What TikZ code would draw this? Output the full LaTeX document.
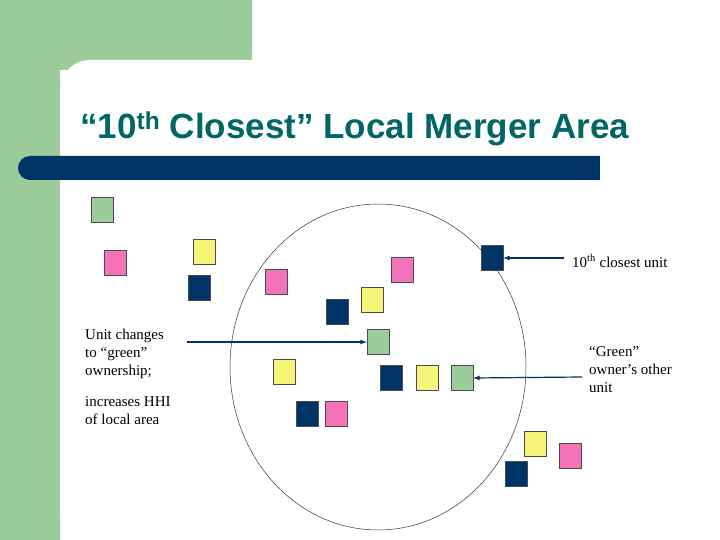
\documentclass[tikz,border=0pt]{standalone}
\usepackage{fontspec}
\setmainfont{Liberation Serif}
\newfontfamily\titlefont{Liberation Sans}
\definecolor{gr}{HTML}{9DCC9B}
\definecolor{nv}{HTML}{003366}
\definecolor{pk}{HTML}{F473B8}
\definecolor{yl}{HTML}{F5F57A}
\definecolor{tl}{HTML}{006666}
\begin{document}
\begin{tikzpicture}[x=1pt,y=-1pt,
  sq/.style={draw=black!70,line width=0.4pt,minimum width=22pt,minimum height=25pt,inner sep=0pt},
  G/.style={sq,fill=gr}, N/.style={sq,fill=nv}, P/.style={sq,fill=pk}, Y/.style={sq,fill=yl},
  lbl/.style={font=\fontsize{15}{18}\selectfont,align=left,inner sep=0pt,anchor=north west},
  arr/.style={draw=nv,line width=1.2pt,-latex}]
\useasboundingbox (0,0) rectangle (720,540);
\fill[white] (0,0) rectangle (720,540);
\fill[gr] (0,0) rectangle (252,70) (0,0) rectangle (60,540);
\fill[white,rounded corners=30pt] (60,545) -- (60,60) -- (725,60) -- (725,545) -- cycle;
\node[anchor=base west,inner sep=0pt,text=tl,font=\titlefont\bfseries\fontsize{35}{40}\selectfont] (title) at (80,139) {“10\textsuperscript{th} Closest” Local Merger Area};
\fill[nv,rounded corners=12pt] (18,156) rectangle (640,180);
\fill[nv] (590,156) rectangle (600,180);
\fill[white] (600,150) rectangle (720,185);
\draw[black!80,line width=0.5pt] (378,367) ellipse[x radius=148,y radius=163];
\node[G] (s1) at (102,210) {};
\node[P] (s2) at (115,263) {};
\node[Y] (s3) at (204,252) {};
\node[N] (s4) at (199,288) {};
\node[P] (s5) at (276,282) {};
\node[N] (s6) at (337,312) {};
\node[Y] (s7) at (372,300) {};
\node[P] (s8) at (402,270) {};
\node[N] (s9) at (492,258) {};
\node[G] (s10) at (378,342) {};
\node[Y] (s11) at (284,372) {};
\node[N] (s12) at (391,378) {};
\node[Y] (s13) at (427,378) {};
\node[G] (s14) at (462,378) {};
\node[N] (s15) at (307,414) {};
\node[P] (s16) at (336,414) {};
\node[Y] (s17) at (535,444) {};
\node[P] (s18) at (570,456) {};
\node[N] (s19) at (516,474) {};
\node[lbl,anchor=west] (t1) at (572,261) {10\textsuperscript{th} closest unit};
\node[lbl] (t2) at (85,329) {Unit changes\\to “green”\\ownership;};
\node[lbl] (t3) at (85,396) {increases HHI\\of local area};
\node[lbl] (t4) at (589,346) {“Green”\\owner’s other\\unit};
\coordinate (a1) at (564,258);
\coordinate (a2) at (187,342);
\coordinate (a3) at (582,377);
\draw[arr] (a1) -- (s9.east);
\draw[arr] (a2) -- (s10.west);
\draw[arr] (a3) -- (s14.east);
\end{tikzpicture}
\end{document}
